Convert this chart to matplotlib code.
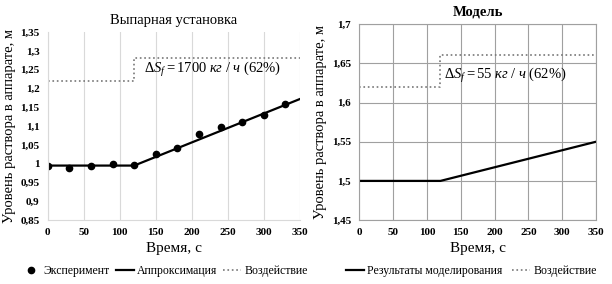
import matplotlib.pyplot as plt

# данные: выпарная установка
t_exp = [0, 30, 60, 90, 120, 150, 180, 210, 240, 270, 300, 330]
h_exp = [0.995, 0.988, 0.995, 0.999, 0.997, 1.027, 1.043, 1.078, 1.097, 1.110, 1.130, 1.160]
t_appr = [0, 120, 350]
h_appr = [0.995, 0.995, 1.172]
t_step = [0, 120, 120, 350]
s_left = [1.22, 1.22, 1.28, 1.28]

# данные: модель
t_mod = [0, 120, 350]
h_mod = [1.50, 1.50, 1.55]
s_right = [1.62, 1.62, 1.66, 1.66]

plt.rcParams['font.family'] = ['Liberation Serif', 'DejaVu Serif']
plt.rcParams['mathtext.fontset'] = 'custom'
plt.rcParams['mathtext.rm'] = 'Liberation Serif'
plt.rcParams['mathtext.it'] = 'Liberation Serif:italic'

fig = plt.figure(figsize=(6.12, 2.84), dpi=100)
ax1 = fig.add_axes([0.078, 0.225, 0.412, 0.662])
ax2 = fig.add_axes([0.587, 0.225, 0.387, 0.690])

ylab = 'Уровень раствора в аппарате, м'

# левый график
ax1.plot(t_step, s_left, ':', color='#777777', lw=1.2)
ax1.plot(t_appr, h_appr, '-', color='black', lw=1.6)
ax1.plot(t_exp, h_exp, 'o', color='black', ms=4.5)
ax1.set_xlim(0, 350)
ax1.set_ylim(0.85, 1.35)
ax1.set_xticks(range(0, 351, 50))
ax1.set_yticks([0.85 + 0.05 * i for i in range(11)])
ax1.set_yticklabels([f'{0.85 + 0.05 * i:.2f}'.rstrip('0').rstrip('.').replace('.', ',') for i in range(11)])
ax1.grid(axis='x', color='#d9d9d9', lw=0.8)
for s in ax1.spines.values():
    s.set_visible(False)
ax1.spines['left'].set_visible(True)
ax1.spines['bottom'].set_visible(True)
ax1.spines['left'].set_color('#d9d9d9')
ax1.spines['bottom'].set_color('#d9d9d9')
ax1.tick_params(length=0, labelsize=8, pad=6)
for lbl in ax1.get_xticklabels() + ax1.get_yticklabels():
    lbl.set_fontweight('bold')
ax1.set_title('Выпарная установка', fontsize=10.5, pad=6)
ax1.set_xlabel('Время, с', fontsize=11, labelpad=3)
ax1.set_ylabel(ylab, fontsize=10.5, labelpad=3)
ax1.text(133, 1.25, r'$\Delta S_f = 1700\ кг\ /\ ч\ (62\%)$', fontsize=10.5, va='center')
h1 = ax1.get_lines()
fig.legend([h1[2], h1[1], h1[0]], ['Эксперимент', 'Аппроксимация', 'Воздействие'],
           loc='center', bbox_to_anchor=(0.27, 0.045), ncol=3, frameon=False,
           fontsize=8.5, handlelength=1.5, handletextpad=0.3, columnspacing=0.5)

# правый график
ax2.plot(t_step, s_right, ':', color='#777777', lw=1.2)
ax2.plot(t_mod, h_mod, '-', color='black', lw=1.6)
ax2.set_xlim(0, 350)
ax2.set_ylim(1.45, 1.70)
ax2.set_xticks(range(0, 351, 50))
ax2.set_yticks([1.45, 1.5, 1.55, 1.6, 1.65, 1.7])
ax2.set_yticklabels(['1,45', '1,5', '1,55', '1,6', '1,65', '1,7'])
ax2.grid(color='#a0a0a0', lw=0.8)
for s in ax2.spines.values():
    s.set_color('#a0a0a0')
ax2.tick_params(length=0, labelsize=8, pad=6)
for lbl in ax2.get_xticklabels() + ax2.get_yticklabels():
    lbl.set_fontweight('bold')
ax2.set_title('Модель', fontsize=10.5, fontweight='bold', pad=6)
ax2.set_xlabel('Время, с', fontsize=11, labelpad=3)
ax2.set_ylabel(ylab, fontsize=10.5, labelpad=3)
ax2.text(125, 1.635, r'$\Delta S_f = 55\ кг\ /\ ч\ (62\%)$', fontsize=10.5, va='center')
h2 = ax2.get_lines()
fig.legend([h2[1], h2[0]], ['Результаты моделирования', 'Воздействие'],
           loc='center', bbox_to_anchor=(0.77, 0.045), ncol=2, frameon=False,
           fontsize=8.5, handlelength=1.5, handletextpad=0.3, columnspacing=0.8)

fig.savefig('out.png', dpi=100)
